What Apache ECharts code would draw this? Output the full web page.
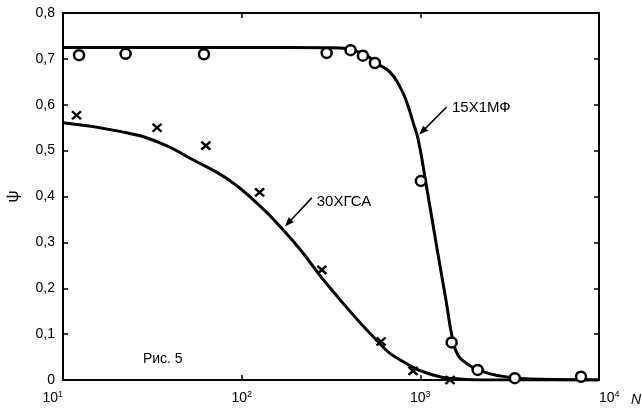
<!DOCTYPE html>
<html>
<head>
<meta charset="utf-8">
<script src="https://cdn.jsdelivr.net/npm/echarts@6/dist/echarts.min.js"></script>
<style>
  html, body { margin: 0; padding: 0; background: #fff; }
  #chart { width: 642px; height: 414px; }
</style>
</head>
<body>
<div id="chart"></div>
<script>
// Test points, steel 15Х1МФ (open circles)
const n15   = [12.3, 22.4, 61.5, 299, 407, 477, 557, 1007, 1497, 2093, 3380, 7930];
const psi15 = [0.708, 0.711, 0.710, 0.713, 0.719, 0.707, 0.691, 0.434, 0.082, 0.022, 0.004, 0.007];

// Test points, steel 30ХГСА (crosses)
const n30   = [11.9, 33.6, 63, 126, 281, 603, 910, 1466];
const psi30 = [0.577, 0.550, 0.511, 0.409, 0.240, 0.084, 0.020, 0];

// Approximating curve, 15Х1МФ
const curveN15   = [10, 100, 312, 470, 565, 676, 769, 842, 910, 974, 1070, 1217, 1392, 1523, 1625, 1778, 2102, 2791, 4109, 10000];
const curvePsi15 = [0.725, 0.725, 0.724, 0.713, 0.691, 0.671, 0.639, 0.604, 0.562, 0.523, 0.434, 0.305, 0.174, 0.085, 0.054, 0.039, 0.022, 0.009, 0.002, 0];

// Approximating curve, 30ХГСА
const curveN30   = [10, 20.8, 34.9, 53.3, 82.7, 126, 170, 212, 312, 594, 769, 1178, 1667, 2160, 10000];
const curvePsi30 = [0.561, 0.542, 0.517, 0.480, 0.439, 0.380, 0.328, 0.285, 0.201, 0.079, 0.044, 0.011, 0.002, 0, 0];

// Axis tick labels
const xTickExp    = ['1', '2', '3', '4'];
const yTickLabels = ['0', '0,1', '0,2', '0,3', '0,4', '0,5', '0,6', '0,7', '0,8'];

// Curve captions: arrow tail, arrow head and caption anchor in data units
const captions = [
  { text: '15Х1МФ', tail: [1403, 0.595], head: [986, 0.535], at: [1503, 0.594] },
  { text: '30ХГСА', tail: [247, 0.397],  head: [175, 0.335], at: [263, 0.389] }
];

const FONT = '"Liberation Sans", Arial, sans-serif';
const pairs = (xs, ys) => xs.map((x, i) => [x, ys[i]]);

const chart = echarts.init(document.getElementById('chart'), null, { renderer: 'canvas' });

const frameLine = { show: true, onZero: false, lineStyle: { color: '#000', width: 2 } };
const innerTick = { show: true, inside: true, length: 5, lineStyle: { color: '#000', width: 1.5 } };

function xAxisDef(pos, showLabels) {
  return {
    type: 'log', logBase: 10, min: 10, max: 10000, position: pos,
    axisLine: frameLine, axisTick: innerTick,
    minorTick: { show: false }, splitLine: { show: false },
    axisLabel: {
      show: showLabels, margin: 10, color: '#000',
      alignMinLabel: 'right', alignMaxLabel: 'left',
      formatter: v => '{b|10}{e|' + xTickExp[Math.round(Math.log10(v)) - 1] + '}',
      rich: {
        b: { fontFamily: FONT, fontSize: 14, color: '#000' },
        e: { fontFamily: FONT, fontSize: 9, color: '#000', padding: [0, 0, 8, 0] }
      }
    }
  };
}

function yAxisDef(pos, showLabels) {
  return {
    type: 'value', min: 0, max: 0.8, interval: 0.1, position: pos,
    axisLine: frameLine, axisTick: innerTick, splitLine: { show: false },
    axisLabel: {
      show: showLabels, margin: 8, color: '#000', fontFamily: FONT, fontSize: 14,
      formatter: v => yTickLabels[Math.round(v * 10)]
    },
    name: showLabels ? 'ψ' : '', nameLocation: 'middle', nameGap: 41, nameRotate: 90,
    nameTextStyle: { fontFamily: FONT, fontSize: 17, color: '#000' }
  };
}

const curveStyle = { color: '#000', width: 3 };

chart.setOption({
  animation: false,
  backgroundColor: '#fff',
  grid: { left: 63, right: 43, top: 13, bottom: 34, containLabel: false, outerBoundsMode: 'none' },
  xAxis: [xAxisDef('bottom', true), xAxisDef('top', false)],
  yAxis: [yAxisDef('left', true), yAxisDef('right', false)],
  series: [
    {
      type: 'line', data: pairs(curveN15, curvePsi15), smooth: 0.5,
      showSymbol: false, lineStyle: curveStyle, z: 2
    },
    {
      type: 'line', data: pairs(curveN30, curvePsi30), smooth: 0.5,
      showSymbol: false, lineStyle: curveStyle, z: 2
    },
    {
      type: 'scatter', data: pairs(n15, psi15), symbol: 'circle', symbolSize: 10, clip: false,
      itemStyle: { color: '#fff', borderColor: '#000', borderWidth: 2.5, opacity: 1 }, z: 5
    },
    {
      type: 'scatter', data: pairs(n30, psi30), symbol: 'path://M0,0L10,10M10,0L0,10',
      symbolSize: [9, 8], clip: false,
      itemStyle: { color: 'rgba(0,0,0,0)', borderColor: '#000', borderWidth: 2.4, opacity: 1 }, z: 5
    }
  ]
});

// Captions with arrows, the axis name N and the figure label
const graphics = [];
captions.forEach(c => {
  const t = chart.convertToPixel({ gridIndex: 0 }, c.tail);
  const h = chart.convertToPixel({ gridIndex: 0 }, c.head);
  const a = chart.convertToPixel({ gridIndex: 0 }, c.at);
  const dx = h[0] - t[0], dy = h[1] - t[1];
  const len = Math.hypot(dx, dy);
  const ux = dx / len, uy = dy / len;
  const bx = h[0] - ux * 9, by = h[1] - uy * 9;
  graphics.push({
    type: 'line', z: 10,
    shape: { x1: t[0], y1: t[1], x2: bx + ux * 2, y2: by + uy * 2 },
    style: { stroke: '#000', lineWidth: 1.5 }
  });
  graphics.push({
    type: 'polygon', z: 10,
    shape: { points: [[h[0], h[1]], [bx - uy * 3.5, by + ux * 3.5], [bx + uy * 3.5, by - ux * 3.5]] },
    style: { fill: '#000' }
  });
  graphics.push({
    type: 'text', z: 10, x: a[0], y: a[1],
    style: { text: c.text, fill: '#000', font: '15px ' + FONT, textAlign: 'left', textVerticalAlign: 'middle' }
  });
});
graphics.push({
  type: 'text', z: 10, x: 631, y: 400,
  style: { text: 'N', fill: '#000', font: 'italic 14px ' + FONT, textAlign: 'left', textVerticalAlign: 'middle' }
});
const figAt = chart.convertToPixel({ gridIndex: 0 }, [28, 0.046]);
graphics.push({
  type: 'text', z: 10, x: figAt[0], y: figAt[1],
  style: { text: 'Рис. 5', fill: '#000', font: '14px ' + FONT, textAlign: 'left', textVerticalAlign: 'middle' }
});
chart.setOption({ graphic: graphics });
</script>
</body>
</html>
